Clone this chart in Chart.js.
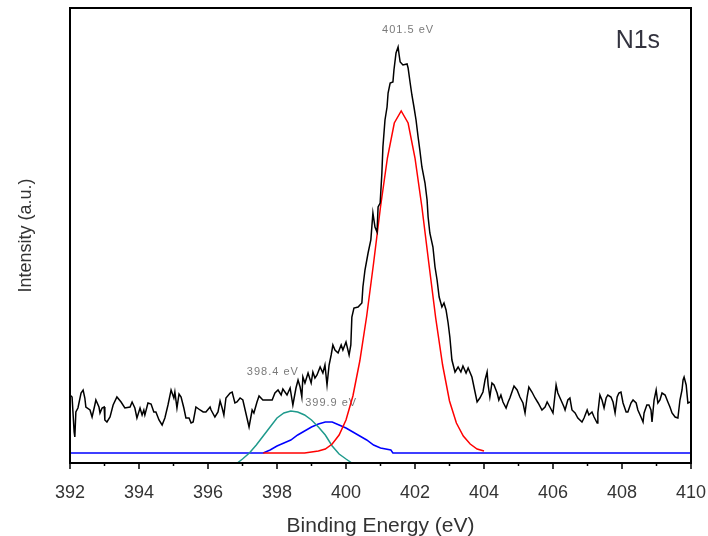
<!DOCTYPE html>
<html>
<head>
<meta charset="utf-8">
<script src="https://cdn.jsdelivr.net/npm/chart.js@4.4.1/dist/chart.umd.min.js"></script>
<style>
  html, body { margin: 0; padding: 0; background: #fff; }
</style>
</head>
<body>
<canvas id="xps" width="708" height="536"></canvas>
<script>
// measured N1s spectrum (binding energy in eV, intensity in a.u.)
const rawEnergy = [
  392.00, 392.06, 392.12, 392.14, 392.17, 392.23, 392.32, 392.38, 392.43, 392.46,
  392.58, 392.64, 392.72, 392.75, 392.84, 392.87, 392.93, 392.99, 393.01, 393.07,
  393.16, 393.25, 393.36, 393.48, 393.59, 393.74, 393.80, 393.88, 393.94, 394.03,
  394.09, 394.14, 394.17, 394.26, 394.35, 394.43, 394.49, 394.58, 394.67, 394.75,
  394.84, 394.93, 395.01, 395.04, 395.10, 395.16, 395.22, 395.30, 395.36, 395.45,
  395.51, 395.57, 395.65, 395.77, 395.86, 395.94, 396.06, 396.09, 396.20, 396.29,
  396.35, 396.41, 396.46, 396.52, 396.64, 396.70, 396.78, 396.84, 396.93, 397.01,
  397.13, 397.19, 397.28, 397.33, 397.42, 397.48, 397.59, 397.71, 397.86, 397.94,
  398.03, 398.12, 398.17, 398.29, 398.38, 398.46, 398.55, 398.61, 398.67, 398.72,
  398.75, 398.81, 398.90, 398.99, 399.04, 399.10, 399.16, 399.25, 399.33, 399.39,
  399.45, 399.51, 399.57, 399.62, 399.68, 399.77, 399.86, 399.91, 400.00, 400.09,
  400.14, 400.17, 400.23, 400.35, 400.46, 400.49, 400.55, 400.64, 400.72, 400.78,
  400.84, 400.90, 400.93, 400.99, 401.04, 401.07, 401.13, 401.19, 401.22, 401.28,
  401.36, 401.39, 401.45, 401.51, 401.54, 401.57, 401.65, 401.77, 401.80, 401.86,
  401.91, 401.97, 402.03, 402.09, 402.14, 402.20, 402.29, 402.35, 402.38, 402.43,
  402.52, 402.58, 402.64, 402.70, 402.78, 402.84, 402.90, 402.96, 403.01, 403.07,
  403.16, 403.25, 403.33, 403.39, 403.48, 403.54, 403.65, 403.74, 403.80, 403.88,
  403.97, 404.03, 404.09, 404.12, 404.17, 404.23, 404.29, 404.38, 404.43, 404.49,
  404.55, 404.64, 404.70, 404.75, 404.81, 404.87, 404.96, 405.04, 405.13, 405.19,
  405.25, 405.30, 405.39, 405.48, 405.57, 405.68, 405.77, 405.83, 405.91, 406.00,
  406.09, 406.14, 406.23, 406.32, 406.35, 406.43, 406.49, 406.55, 406.64, 406.72,
  406.84, 406.90, 406.99, 407.04, 407.13, 407.19, 407.28, 407.30, 407.36, 407.42,
  407.48, 407.54, 407.59, 407.68, 407.74, 407.80, 407.86, 407.91, 407.97, 408.03,
  408.12, 408.17, 408.26, 408.32, 408.41, 408.46, 408.55, 408.61, 408.64, 408.72,
  408.78, 408.84, 408.87, 408.93, 408.99, 409.04, 409.10, 409.16, 409.25, 409.33,
  409.39, 409.45, 409.54, 409.62, 409.68, 409.74, 409.77, 409.80, 409.86, 409.91,
  409.97
];
const rawIntensity = [
  68, 66, 31, 26, 51, 55, 70, 73, 65, 56,
  53, 46, 58, 63, 56, 50, 55, 56, 43, 41,
  46, 58, 66, 61, 55, 56, 61, 55, 45, 55,
  48, 53, 48, 60, 59, 51, 51, 43, 38, 45,
  58, 73, 65, 71, 55, 69, 66, 55, 45, 45,
  40, 41, 56, 53, 51, 51, 56, 53, 46, 51,
  62, 55, 48, 65, 70, 71, 60, 61, 65, 63,
  45, 36, 53, 50, 61, 67, 63, 63, 63, 70,
  73, 68, 74, 68, 75, 58, 75, 83, 76, 66,
  86, 80, 90, 80, 91, 85, 88, 96, 90, 98,
  78, 98, 108, 118, 113, 110, 118, 113, 121, 108,
  118, 146, 155, 156, 160, 176, 193, 210, 223, 250,
  236, 231, 256, 260, 290, 316, 343, 356, 370, 380,
  381, 393, 410, 416, 408, 401, 398, 399, 395, 380,
  368, 356, 343, 326, 313, 296, 280, 263, 246, 230,
  216, 196, 183, 166, 156, 160, 153, 140, 126, 103,
  91, 96, 91, 97, 90, 95, 86, 71, 61, 65,
  71, 83, 91, 78, 66, 80, 78, 70, 63, 68,
  61, 55, 61, 65, 71, 77, 73, 66, 60, 50,
  66, 76, 71, 65, 60, 53, 56, 61, 56, 50,
  78, 70, 63, 56, 53, 63, 65, 53, 50, 45,
  41, 45, 53, 48, 51, 46, 40, 50, 68, 63,
  55, 65, 68, 66, 61, 50, 66, 70, 71, 60,
  51, 51, 60, 63, 60, 53, 46, 41, 50, 58,
  58, 53, 41, 63, 73, 60, 63, 70, 68, 61,
  56, 50, 46, 45, 63, 73, 83, 86, 78, 60,
  61
];

// fitted components
const redEnergy = [
  397.6, 397.8, 398.0, 398.2, 398.4, 398.6, 398.8, 399.0, 399.2, 399.4,
  399.6, 399.8, 400.0, 400.2, 400.4, 400.6, 400.8, 401.0, 401.2, 401.4,
  401.6, 401.8, 402.0, 402.2, 402.4, 402.6, 402.8, 403.0, 403.2, 403.4,
  403.6, 403.8, 404.0
];
const redIntensity = [
  10, 10, 10, 10, 10, 10, 10, 11, 12, 14,
  19, 28, 43, 67, 102, 147, 200, 256, 305, 340,
  352, 340, 305, 256, 200, 145, 98, 62, 40, 27,
  19, 14, 12
];

const tealEnergy = [
  396.85, 397.0, 397.2, 397.4, 397.6, 397.8, 398.0, 398.2, 398.4, 398.6,
  398.8, 399.0, 399.2, 399.4, 399.6, 399.8, 400.0, 400.17
];
const tealIntensity = [
  0, 4, 10, 18, 27, 36, 45, 50, 52, 51,
  48, 43, 36, 28, 17, 9, 4, 0
];

const blueEnergy = [
  392.0, 397.6, 397.8, 398.0, 398.2, 398.4, 398.6, 398.8, 399.0, 399.2,
  399.4, 399.6, 399.8, 400.0, 400.2, 400.4, 400.6, 400.8, 401.0, 401.3,
  401.36, 410.0
];
const blueIntensity = [
  10, 10, 13, 17, 20, 23, 28, 32, 36, 39,
  41, 41, 38, 35, 31, 27, 23, 18, 15, 13,
  10, 10
];

const majorTicks = [392, 394, 396, 398, 400, 402, 404, 406, 408, 410];
const minorTicks = [393, 395, 397, 399, 401, 403, 405, 407, 409];

const peakLabels = [
  { text: "401.5 eV", x: 401.80, y: 433 },
  { text: "398.4 eV", x: 397.88, y: 91 },
  { text: "399.9 eV", x: 399.57, y: 60 }
];

const toPoints = (xs, ys) => xs.map((x, i) => ({ x, y: ys[i] }));

const framePlugin = {
  id: "frame",
  beforeDatasetsDraw(chart) {
    const { ctx, scales } = chart;
    ctx.save();
    ctx.font = '11px "Liberation Sans", Arial, sans-serif';
    ctx.letterSpacing = "1px";
    ctx.fillStyle = "#7a7a7a";
    ctx.textAlign = "center";
    ctx.textBaseline = "middle";
    for (const lab of peakLabels) {
      ctx.fillText(lab.text, scales.x.getPixelForValue(lab.x), scales.y.getPixelForValue(lab.y));
    }
    ctx.restore();
  },
  afterDatasetsDraw(chart) {
    const { ctx, chartArea: a, scales } = chart;
    ctx.save();
    ctx.font = '25px "Liberation Sans", Arial, sans-serif';
    ctx.fillStyle = "#33333f";
    ctx.textAlign = "center";
    ctx.textBaseline = "middle";
    ctx.fillText("N1s", scales.x.getPixelForValue(408.46), scales.y.getPixelForValue(422));

    ctx.strokeStyle = "#000";
    ctx.lineWidth = 2;
    ctx.strokeRect(a.left, a.top, a.right - a.left, a.bottom - a.top);
    ctx.lineWidth = 1.5;
    ctx.beginPath();
    for (const v of majorTicks) {
      const px = scales.x.getPixelForValue(v);
      ctx.moveTo(px, a.bottom);
      ctx.lineTo(px, a.bottom + 6);
    }
    for (const v of minorTicks) {
      const px = scales.x.getPixelForValue(v);
      ctx.moveTo(px, a.bottom);
      ctx.lineTo(px, a.bottom + 3);
    }
    ctx.stroke();
    ctx.restore();
  }
};

Chart.defaults.font.family = '"Liberation Sans", Arial, sans-serif';

new Chart(document.getElementById("xps"), {
  type: "line",
  data: {
    datasets: [
      { label: "Raw", data: toPoints(rawEnergy, rawIntensity), borderColor: "#000", borderWidth: 1.5 },
      { label: "401.5 eV", data: toPoints(redEnergy, redIntensity), borderColor: "#ff0000", borderWidth: 1.5 },
      { label: "398.4 eV", data: toPoints(tealEnergy, tealIntensity), borderColor: "#1f9a8c", borderWidth: 1.5 },
      { label: "399.9 eV", data: toPoints(blueEnergy, blueIntensity), borderColor: "#0000ff", borderWidth: 1.5 }
    ]
  },
  options: {
    responsive: false,
    animation: false,
    devicePixelRatio: 1,
    layout: { padding: { top: 8, right: 17, left: 0, bottom: 0 } },
    elements: { point: { radius: 0 }, line: { tension: 0 } },
    plugins: { legend: { display: false }, tooltip: { enabled: false } },
    scales: {
      x: {
        type: "linear",
        min: 392,
        max: 410,
        grid: { display: false, drawTicks: false },
        border: { display: false },
        ticks: {
          stepSize: 2,
          autoSkip: false,
          maxRotation: 0,
          padding: 19,
          color: "#333",
          font: { size: 18 }
        },
        title: {
          display: true,
          text: "Binding Energy (eV)",
          color: "#333",
          font: { size: 21 },
          padding: { top: 0, bottom: -3 }
        },
        afterFit: (scale) => {
          scale.height = 73;
          scale.paddingLeft = 0;
          scale.paddingRight = 0;
        }
      },
      y: {
        min: 0,
        max: 455,
        grid: { display: false, drawTicks: false },
        border: { display: false },
        ticks: { display: false },
        title: {
          display: true,
          text: "Intensity (a.u.)",
          color: "#333",
          font: { size: 18 },
          padding: { top: 15, bottom: 0 }
        },
        afterFit: (scale) => { scale.width = 70; }
      }
    }
  },
  plugins: [framePlugin]
});
</script>
</body>
</html>
